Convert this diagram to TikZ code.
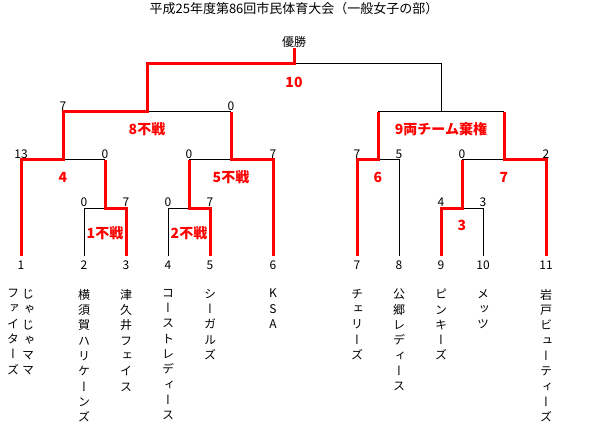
\documentclass[tikz,border=0pt]{standalone}
\usepackage{fontspec}
\setmainfont{Noto Sans CJK JP}
\newfontfamily\tatefont[RawFeature=+vert]{Noto Sans CJK JP}
\usetikzlibrary{positioning}
\definecolor{winred}{RGB}{255,0,0}

\begin{document}
\begin{tikzpicture}[x=1pt,y=-1pt,
	lose/.style={draw=black,line width=1pt},
	win/.style={draw=winred,line width=3pt},
	score/.style={inner sep=0pt,font=\fontsize{12}{14}\selectfont},
	result/.style={inner sep=0pt,text=winred,font=\bfseries\fontsize{14}{16}\selectfont},
	team/.style={anchor=north,align=center,inner sep=0pt,font=\tatefont\fontsize{12}{15.3}\selectfont}
	]
	
	\useasboundingbox (0,0) rectangle (589,433);
	
	% leaves
	\coordinate (t1) at (21,256);
	\coordinate (t2) at (84,256);
	\coordinate (t3) at (126,256);
	\coordinate (t4) at (168,256);
	\coordinate (t5) at (210,256);
	\coordinate (t6) at (273,256);
	\coordinate (t7) at (357,256);
	\coordinate (t8) at (399,256);
	\coordinate (t9) at (441,256);
	\coordinate (t10) at (483,256);
	\coordinate (t11) at (546,256);
	
	% matches
	\coordinate (m1) at (105,208);
	\coordinate (m2) at (189,208);
	\coordinate (m3) at (462,208);
	\coordinate (m4) at (63,160);
	\coordinate (m5) at (231,160);
	\coordinate (m6) at (378,160);
	\coordinate (m7) at (504,160);
	\coordinate (m8) at (147,112);
	\coordinate (m9) at (441,112);
	\coordinate (m10) at (294,64);
	
	\node[score,font=\fontsize{13}{15}\selectfont] (title) at (294,9) {平成25年度第86回市民体育大会（一般女子の部）};
	\node[score,anchor=south] (champ) at (294,48) {優勝};
	
	% black lines
	\draw[lose] (t2) |- (m1);
	\draw[lose] (t4) |- (m2);
	\draw[lose] (t8) |- (m6);
	\draw[lose] (t10) |- (m3);
	\draw[lose] (m1 |- m4) -- (m4);
	\draw[lose] (m2 |- m5) -- (m5);
	\draw[lose] (m3 |- m7) -- (m7);
	\draw[lose] (m5 |- m8) -- (m8);
	\draw[lose] (m6 |- m9) -- (m7 |- m9);
	\draw[lose] (m9) |- (m10);
	
	% red lines
	\draw[win] (t1) |- (m4) |- (m8) |- (m10) -- (champ.south);
	\draw[win] (t3) |- (m1) -- (m1 |- m4);
	\draw[win] (t5) |- (m2) -- (m2 |- m5);
	\draw[win] (t6) |- (m5) -- (m5 |- m8);
	\draw[win] (t7) |- (m6) -- (m6 |- m9);
	\draw[win] (t9) |- (m3) -- (m3 |- m7);
	\draw[win] (t11) |- (m7) -- (m7 |- m9);
	
	% scores
	\node[score] (s1a) at (84,202) {0};
	\node[score] (s1b) at (126,202) {7};
	\node[score] (s2a) at (168,202) {0};
	\node[score] (s2b) at (210,202) {7};
	\node[score] (s3a) at (441,202) {4};
	\node[score] (s3b) at (483,202) {3};
	\node[score] (s4a) at (21,154) {13};
	\node[score] (s4b) at (105,154) {0};
	\node[score] (s5a) at (189,154) {0};
	\node[score] (s5b) at (273,154) {7};
	\node[score] (s6a) at (357,154) {7};
	\node[score] (s6b) at (399,154) {5};
	\node[score] (s7a) at (462,154) {0};
	\node[score] (s7b) at (546,154) {2};
	\node[score] (s8a) at (63,106) {7};
	\node[score] (s8b) at (231,106) {0};
	
	% match numbers
	\node[result] (r1) at (105,233) {1不戦};
	\node[result] (r2) at (189,233) {2不戦};
	\node[result] (r3) at (462,225) {3};
	\node[result] (r4) at (63,177) {4};
	\node[result] (r5) at (231,177) {5不戦};
	\node[result] (r6) at (378,177) {6};
	\node[result] (r7) at (504,177) {7};
	\node[result] (r8) at (147,129) {8不戦};
	\node[result] (r9) at (441,129) {9両チーム棄権};
	\node[result] (r10) at (294,82) {10};
	
	% draw numbers
	\node[score,below=5pt of t1] (n1) {1};
	\node[score,below=5pt of t2] (n2) {2};
	\node[score,below=5pt of t3] (n3) {3};
	\node[score,below=5pt of t4] (n4) {4};
	\node[score,below=5pt of t5] (n5) {5};
	\node[score,below=5pt of t6] (n6) {6};
	\node[score,below=5pt of t7] (n7) {7};
	\node[score,below=5pt of t8] (n8) {8};
	\node[score,below=5pt of t9] (n9) {9};
	\node[score,below=5pt of t10] (n10) {10};
	\node[score,below=5pt of t11] (n11) {11};
	
	% team names
	\node[team] (a1) at (28,289) {じ\\ゃ\\じ\\ゃ\\マ\\マ};
	\node[team] (b1) at (13,289) {フ\\ァ\\イ\\タ\\ー\\ズ};
	\node[team] (a2) at (84,289) {横\\須\\賀\\ハ\\リ\\ケ\\ー\\ン\\ズ};
	\node[team] (a3) at (126,289) {津\\久\\井\\フ\\ェ\\イ\\ス};
	\node[team] (a4) at (168,289) {コ\\ー\\ス\\ト\\レ\\デ\\ィ\\ー\\ス};
	\node[team] (a5) at (210,289) {シ\\ー\\ガ\\ル\\ズ};
	\node[team] (a6) at (273,289) {K\\S\\A};
	\node[team] (a7) at (357,289) {チ\\ェ\\リ\\ー\\ズ};
	\node[team] (a8) at (399,289) {公\\郷\\レ\\デ\\ィ\\ー\\ス};
	\node[team] (a9) at (441,289) {ピ\\ン\\キ\\ー\\ズ};
	\node[team] (a10) at (483,289) {メ\\ッ\\ツ};
	\node[team] (a11) at (546,289) {岩\\戸\\ビ\\ュ\\ー\\テ\\ィ\\ー\\ズ};
	
\end{tikzpicture}
\end{document}
